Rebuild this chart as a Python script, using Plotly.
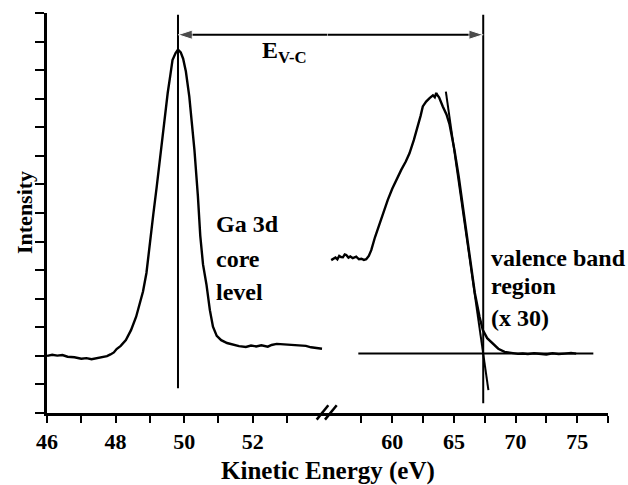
import plotly.graph_objects as go

# ---------------- data ----------------
# Ga 3d core level (left panel), kinetic energy in eV vs intensity (a.u.)
core_ev = [46.0, 46.15, 46.3, 46.45, 46.6, 46.8, 47.0, 47.15, 47.3, 47.45, 47.6, 47.75,
           47.85, 47.95, 48.03, 48.15, 48.3, 48.45, 48.6, 48.7, 48.8, 48.9, 48.95, 49.0,
           49.1, 49.2, 49.3, 49.37, 49.45, 49.52, 49.6, 49.66, 49.75, 49.82, 49.9,
           49.97, 50.05, 50.15, 50.22, 50.3, 50.4, 50.47, 50.55, 50.65, 50.75, 50.84,
           50.95, 51.08, 51.25, 51.46, 51.6, 51.8, 51.95, 52.1, 52.25, 52.44, 52.55,
           52.7, 52.9, 53.1, 53.25, 53.4, 53.55, 53.7, 53.85, 54.02]
core_int = [2.00, 2.04, 2.01, 2.03, 1.97, 1.95, 1.90, 1.92, 1.88, 1.91, 1.95, 1.99,
            2.05, 2.12, 2.24, 2.35, 2.55, 2.90, 3.37, 3.80, 4.25, 4.90, 5.45, 6.05,
            6.95, 7.92, 9.00, 9.80, 10.55, 11.20, 11.85, 12.35, 12.60, 12.72, 12.62,
            12.40, 11.95, 11.07, 10.20, 9.20, 7.60, 6.20, 5.20, 4.50, 3.60, 3.02,
            2.70, 2.55, 2.45, 2.38, 2.34, 2.31, 2.36, 2.33, 2.37, 2.32, 2.38,
            2.42, 2.40, 2.38, 2.36, 2.34, 2.35, 2.30, 2.27, 2.25]

# Valence band region (x 30), right panel
vb_ev = [55.05, 55.25, 55.4, 55.55, 55.7, 55.85, 56.0, 56.15, 56.27, 56.45, 56.6, 56.8,
         57.08, 57.3, 57.5, 57.7, 57.89, 58.1, 58.3, 58.6, 58.97, 59.3, 59.64, 60.0,
         60.32, 60.5, 60.73, 61.1, 61.4, 61.75, 62.08, 62.3, 62.48, 62.75, 63.03,
         63.3, 63.45, 63.57, 63.7, 63.8, 64.1, 64.4, 64.65, 65.05, 65.4, 65.73, 66.1,
         66.41, 66.7, 67.08, 67.35, 67.7, 68.16, 68.6, 69.11, 69.5, 69.8, 70.2, 70.59,
         71.0, 71.5, 72.0, 72.5, 73.0, 73.5, 74.0, 74.5, 74.92]
vb_int = [5.35, 5.40, 5.44, 5.38, 5.50, 5.46, 5.45, 5.55, 5.53, 5.44, 5.48, 5.42,
          5.47, 5.38, 5.40, 5.36, 5.38, 5.50, 5.70, 6.15, 6.64, 7.05, 7.46, 7.85,
          8.16, 8.30, 8.51, 8.80, 9.09, 9.55, 10.03, 10.40, 10.73, 10.90, 11.02,
          11.12, 11.05, 11.20, 11.10, 11.05, 10.73, 10.45, 10.10, 9.20, 8.25, 7.25, 6.20,
          5.12, 4.20, 3.37, 2.90, 2.62, 2.43, 2.25, 2.14, 2.11, 2.10, 2.07, 2.08,
          2.06, 2.09, 2.07, 2.05, 2.09, 2.06, 2.08, 2.10, 2.08]

# Construction lines
core_peak_ev = 49.82            # vertical line through core-level peak
core_line_y = [0.87, 13.94]
vbm_ev = 67.38                  # valence band maximum (extrapolated onset)
vbm_line_y = [0.34, 13.94]
tangent_ev = [64.35, 67.80]     # linear fit to leading edge
tangent_int = [11.25, 0.80]
base_ev = [57.25, 76.31]        # background level
base_int = [2.08, 2.08]
arrow_y = 13.24

left_range = [46, 54.18]
right_range = [54.75, 77.5]
left_major = [46, 48, 50, 52]
left_minor = [47, 49, 51, 53]
right_major = [60, 65, 70, 75]
right_minor = [57.5, 62.5, 67.5, 72.5, 77.5]
y_ticks = list(range(0, 15))

# ---------------- figure ----------------
FONT = "Liberation Serif"
line_style = dict(color="black", width=2.4)
thin = dict(color="black", width=2)
bold = lambda s: f"<b>{s}</b>"

fig = go.Figure()
fig.add_trace(go.Scatter(x=core_ev, y=core_int, mode="lines", line=line_style,
                         xaxis="x", yaxis="y", showlegend=False, hoverinfo="skip"))
fig.add_trace(go.Scatter(x=[core_peak_ev, core_peak_ev], y=core_line_y, mode="lines",
                         line=thin, xaxis="x", yaxis="y", showlegend=False))
fig.add_trace(go.Scatter(x=vb_ev, y=vb_int, mode="lines", line=line_style,
                         xaxis="x2", yaxis="y", showlegend=False, hoverinfo="skip"))
fig.add_trace(go.Scatter(x=tangent_ev, y=tangent_int, mode="lines", line=thin,
                         xaxis="x2", yaxis="y", showlegend=False))
fig.add_trace(go.Scatter(x=base_ev, y=base_int, mode="lines", line=thin,
                         xaxis="x2", yaxis="y", showlegend=False))
fig.add_trace(go.Scatter(x=[vbm_ev, vbm_ev], y=vbm_line_y, mode="lines", line=thin,
                         xaxis="x2", yaxis="y", showlegend=False))

# double-headed E_V-C arrow spanning the axis break (shaft + arrow heads)
arrow_marker = dict(symbol="arrow", angleref="previous", size=[0, 15],
                    standoff=0, color="black")
fig.add_trace(go.Scatter(x=[left_range[1], core_peak_ev], y=[arrow_y, arrow_y],
                         mode="lines+markers", line=thin, marker=arrow_marker,
                         xaxis="x", yaxis="y", showlegend=False, cliponaxis=False))
fig.add_trace(go.Scatter(x=[right_range[0], vbm_ev], y=[arrow_y, arrow_y],
                         mode="lines+markers", line=thin, marker=arrow_marker,
                         xaxis="x2", yaxis="y", showlegend=False, cliponaxis=False))

tickfont = dict(family=FONT, size=22, color="black", weight="bold")
axis_common = dict(showline=True, linecolor="black", linewidth=2.5, ticks="outside",
                   ticklen=7, tickwidth=2, tickcolor="black", showgrid=False,
                   zeroline=False, tickfont=tickfont, tickmode="array")

fig.update_layout(
    width=628, height=485,
    margin=dict(l=47, r=20, t=13, b=72),
    paper_bgcolor="white", plot_bgcolor="white",
    font=dict(family=FONT, color="black"),
    xaxis=dict(domain=[0, 0.5], range=left_range, tickvals=left_major,
               ticktext=[str(v) for v in left_major], anchor="y",
               minor=dict(tickmode="array", tickvals=left_minor, ticks="outside",
                          ticklen=7, tickwidth=2, tickcolor="black", showgrid=False),
               **axis_common),
    xaxis2=dict(domain=[0.5, 1], range=right_range, tickvals=right_major,
                ticktext=[str(v) for v in right_major], anchor="y",
                minor=dict(tickmode="array", tickvals=right_minor, ticks="outside",
                           ticklen=7, tickwidth=2, tickcolor="black", showgrid=False),
                **axis_common),
    yaxis=dict(range=[0, 14], tickmode="array", tickvals=y_ticks, showticklabels=False,
               showline=True, linecolor="black", linewidth=2.5, ticks="outside",
               ticklen=9, tickwidth=2, tickcolor="black", showgrid=False, zeroline=False),
)

# axis break mark "//" centred on the join of the two x-axes
for dx0, dx1 in [(-10.8, 0.8), (-2.5, 9.2)]:
    fig.add_shape(type="line", xref="paper", yref="paper", xsizemode="pixel",
                  ysizemode="pixel", xanchor=0.5, yanchor=0, x0=dx0, x1=dx1,
                  y0=-6.6, y1=7.7, line=dict(color="black", width=2.5))

txt = dict(family=FONT, size=24, color="black")
ann = []
ann.append(dict(x=52.22, y=12.62, xref="x", yref="y", xanchor="left", yanchor="middle",
                text="<b>E<sub>V-C</sub></b>", showarrow=False, font=txt))
for s, yv in [("Ga 3d", 6.60), ("core", 5.38), ("level", 4.22)]:
    ann.append(dict(x=50.88, y=yv, xref="x", yref="y", xanchor="left", yanchor="middle",
                    text=bold(s), showarrow=False, font=txt))
for s, yv in [("valence band", 5.41), ("region", 4.45), ("(x 30)", 3.34)]:
    ann.append(dict(x=67.82, y=yv, xref="x2", yref="y", xanchor="left", yanchor="middle",
                    text=bold(s), showarrow=False, font=txt))
# axis titles
ann.append(dict(x=0.5, y=0, xref="paper", yref="paper", yanchor="middle", yshift=-58,
                text=bold("Kinetic Energy (eV)"), showarrow=False,
                font=dict(family=FONT, size=25, color="black")))
ann.append(dict(x=0, y=0.5, xref="paper", yref="paper", xanchor="center", xshift=-23,
                textangle=-90, text=bold("Intensity"), showarrow=False,
                font=dict(family=FONT, size=22, color="black")))
fig.update_layout(annotations=ann)

fig.write_html("out.html")
